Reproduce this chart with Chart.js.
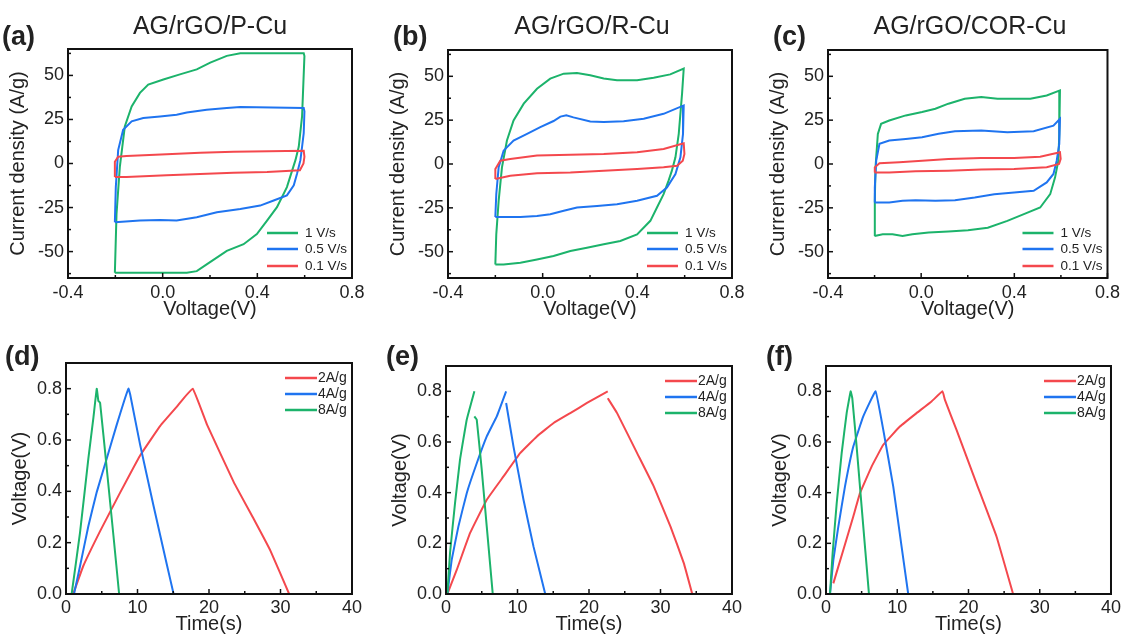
<!DOCTYPE html>
<html>
<head>
<meta charset="utf-8">
<script src="https://cdn.jsdelivr.net/npm/chart.js@4.4.1/dist/chart.umd.min.js"></script>
<style>
  html, body { margin: 0; padding: 0; background: #fff; }
  #fig { position: relative; width: 1124px; height: 636px; overflow: hidden;
         font-family: "Liberation Sans", Arial, sans-serif; color: #222; }
  #fig canvas { position: absolute; }
  .title { position: absolute; width: 300px; font-size: 25px; line-height: 1; text-align: center; white-space: nowrap; z-index: 2; }
  .tag { position: absolute; font-size: 27px; font-weight: bold; line-height: 1; z-index: 2; }
</style>
</head>
<body>
<div id="fig">
  <canvas id="cvA" width="370" height="330" style="left:0;top:0"></canvas>
  <canvas id="cvB" width="370" height="330" style="left:380px;top:0"></canvas>
  <canvas id="cvC" width="364" height="330" style="left:760px;top:0"></canvas>
  <canvas id="gcdD" width="370" height="306" style="left:0;top:330px"></canvas>
  <canvas id="gcdE" width="370" height="306" style="left:380px;top:330px"></canvas>
  <canvas id="gcdF" width="364" height="306" style="left:760px;top:330px"></canvas>

  <div class="title" style="left:60px;top:13px">AG/rGO/P-Cu</div>
  <div class="title" style="left:442px;top:13px">AG/rGO/R-Cu</div>
  <div class="title" style="left:820px;top:13px">AG/rGO/COR-Cu</div>
  <div class="tag" style="left:2px;top:23px">(a)</div>
  <div class="tag" style="left:393px;top:23px">(b)</div>
  <div class="tag" style="left:773px;top:23px">(c)</div>
  <div class="tag" style="left:5px;top:343px">(d)</div>
  <div class="tag" style="left:386px;top:343px">(e)</div>
  <div class="tag" style="left:766px;top:343px">(f)</div>
</div>

<script>
// ---------- tick labels / legend names

const cvVoltageTicks = [-0.4, 0.0, 0.4, 0.8];
const cvCurrentTicks = [-50, -25, 0, 25, 50];
const gcdTimeTicks = [0, 10, 20, 30, 40];
const gcdVoltageTicks = [0.0, 0.2, 0.4, 0.6, 0.8];

const scanRates = ["1 V/s", "0.5 V/s", "0.1 V/s"];
const currentDensities = ["2A/g", "4A/g", "8A/g"];

// ---------- CV loops, voltage (V) and current density (A/g)

// (a) AG/rGO/P-Cu
const aV1 = [-0.202, -0.195, -0.181, -0.160, -0.131, -0.096, -0.061, 0.003, 0.073, 0.144, 0.201, 0.271, 0.328, 0.596, 0.599, 0.589, 0.575, 0.561, 0.525, 0.483, 0.441, 0.398, 0.342, 0.271, 0.186, 0.144, 0.102, -0.202];
const aJ1 = [-62.0, -28.6, -1.9, 21.0, 32.4, 40.1, 44.8, 47.7, 50.6, 53.4, 57.3, 61.1, 62.6, 62.6, 61.0, 26.7, 9.5, 1.9, -13.4, -24.8, -32.4, -40.1, -45.8, -49.6, -57.3, -61.1, -62.0, -62.0];
const aV05 = [-0.202, -0.198, -0.188, -0.167, -0.131, -0.082, -0.011, 0.059, 0.102, 0.186, 0.271, 0.328, 0.596, 0.599, 0.596, 0.589, 0.582, 0.568, 0.554, 0.525, 0.469, 0.412, 0.328, 0.229, 0.144, 0.059, -0.011, -0.096, -0.202];
const aJ05 = [-33.4, -13.4, 7.6, 19.1, 23.9, 25.8, 26.7, 27.7, 29.0, 30.5, 31.5, 32.1, 31.5, 29.6, 17.2, 9.5, 1.9, -5.7, -12.4, -18.1, -21.0, -23.9, -25.8, -27.7, -30.5, -32.4, -32.1, -32.4, -33.4];
const aV01 = [-0.202, -0.202, -0.188, -0.153, 0.017, 0.158, 0.299, 0.596, 0.599, 0.595, 0.580, 0.441, 0.299, 0.017, -0.153, -0.202];
const aJ01 = [-7.6, 1.0, 3.8, 4.2, 5.3, 6.1, 6.7, 7.3, 3.8, 0.0, -3.8, -4.8, -5.3, -6.7, -7.6, -7.6];

// (b) AG/rGO/R-Cu
const bV1 = [-0.200, -0.196, -0.186, -0.172, -0.151, -0.123, -0.080, -0.024, 0.032, 0.089, 0.145, 0.201, 0.258, 0.314, 0.399, 0.469, 0.539, 0.596, 0.589, 0.575, 0.561, 0.546, 0.532, 0.511, 0.483, 0.455, 0.399, 0.328, 0.258, 0.187, 0.117, 0.046, -0.024, -0.094, -0.165, -0.200];
const bJ1 = [-57.3, -40.1, -21.0, -1.9, 13.4, 24.8, 34.4, 42.9, 48.7, 51.5, 51.9, 50.6, 48.7, 47.7, 47.7, 49.2, 51.1, 54.4, 40.1, 17.2, 3.8, -3.8, -9.5, -17.2, -24.8, -32.4, -40.1, -43.9, -45.8, -47.7, -49.6, -52.5, -54.4, -56.3, -57.3, -57.3];
const bV05 = [-0.200, -0.196, -0.186, -0.165, -0.123, -0.066, -0.010, 0.046, 0.075, 0.100, 0.130, 0.201, 0.258, 0.342, 0.427, 0.511, 0.596, 0.593, 0.582, 0.561, 0.525, 0.483, 0.399, 0.314, 0.230, 0.145, 0.089, 0.032, -0.024, -0.094, -0.200];
const bJ05 = [-30.2, -17.2, -1.9, 7.6, 13.4, 17.2, 21.0, 24.5, 27.0, 27.8, 26.6, 24.2, 23.9, 24.4, 25.8, 28.6, 33.4, 17.2, 3.8, -5.7, -13.4, -18.1, -21.0, -22.9, -23.9, -24.8, -26.7, -28.6, -29.6, -30.2, -30.2];
const bV01 = [-0.200, -0.200, -0.179, -0.137, -0.024, 0.117, 0.258, 0.399, 0.511, 0.596, 0.599, 0.592, 0.568, 0.511, 0.399, 0.258, 0.117, -0.024, -0.137, -0.200];
const bJ01 = [-8.6, -2.9, 1.9, 2.9, 4.8, 5.3, 5.7, 6.7, 8.6, 11.8, 5.7, 1.9, -1.0, -1.9, -2.9, -3.8, -4.8, -5.3, -6.7, -8.6];

// (c) AG/rGO/COR-Cu
const cV1 = [-0.200, -0.199, -0.196, -0.186, -0.172, -0.137, -0.066, 0.004, 0.061, 0.117, 0.187, 0.258, 0.328, 0.399, 0.469, 0.539, 0.596, 0.593, 0.589, 0.575, 0.554, 0.511, 0.441, 0.370, 0.286, 0.201, 0.117, 0.032, -0.038, -0.080, -0.123, -0.165, -0.200];
const cJ1 = [-41.0, -21.0, -1.9, 17.2, 22.9, 24.8, 27.7, 29.6, 31.5, 34.4, 37.2, 38.2, 37.2, 37.2, 37.2, 39.1, 42.0, 17.2, 1.9, -7.6, -17.2, -24.8, -28.6, -32.4, -36.3, -37.8, -38.5, -39.1, -40.1, -41.0, -40.1, -40.1, -41.0];
const cV05 = [-0.200, -0.199, -0.193, -0.179, -0.137, -0.066, 0.004, 0.075, 0.145, 0.258, 0.370, 0.483, 0.568, 0.596, 0.593, 0.582, 0.568, 0.539, 0.483, 0.399, 0.314, 0.230, 0.145, 0.061, -0.024, -0.080, -0.137, -0.200];
const cJ05 = [-21.9, -13.4, 1.9, 11.5, 13.4, 14.3, 15.3, 17.2, 18.7, 19.1, 18.1, 18.7, 21.9, 25.8, 11.5, 1.9, -5.7, -10.5, -15.3, -16.2, -17.2, -19.1, -20.6, -21.0, -20.6, -21.0, -21.9, -21.9];
const cV01 = [-0.200, -0.199, -0.179, -0.094, 0.004, 0.117, 0.258, 0.399, 0.511, 0.596, 0.599, 0.592, 0.539, 0.399, 0.258, 0.117, -0.024, -0.137, -0.200];
const cJ01 = [-4.8, -1.9, 0.4, 1.0, 1.9, 2.9, 3.4, 3.4, 4.2, 6.7, 2.9, 0.0, -1.9, -2.9, -3.2, -3.8, -4.2, -4.8, -4.8];

// ---------- GCD curves, time (s) and voltage (V); null = break in the trace

// (d)
const dT2 = [1.0, 2.43, 4.77, 7.57, 10.37, 13.18, 15.51, 17.71, 19.72, 23.46, 26.26, 28.60, 31.21];
const dU2 = [0.0, 0.110, 0.245, 0.395, 0.540, 0.655, 0.730, 0.800, 0.660, 0.436, 0.292, 0.168, 0.0];
const dT4 = [1.12, 1.96, 3.13, 4.30, 5.70, 7.10, 8.13, 8.74, 8.97, 10.37, 12.24, 14.11, 15.05];
const dU4 = [0.0, 0.108, 0.265, 0.397, 0.528, 0.660, 0.752, 0.800, 0.778, 0.581, 0.344, 0.114, 0.0];
const dT8 = [0.79, 1.96, 3.13, 3.83, 4.30, 4.53, 4.77, 5.70, 6.64, 7.43];
const dU8 = [0.0, 0.239, 0.528, 0.686, 0.800, 0.752, 0.745, 0.489, 0.226, 0.0];

// (e)
const eT2 = [0.19, 1.50, 3.36, 5.70, 8.04, 10.37, 12.71, 15.05, 17.38, 19.72, 22.62, 22.62, 22.62, 23.93, 26.73, 29.07, 31.40, 33.27, 34.44];
const eU2 = [0.0, 0.095, 0.240, 0.372, 0.464, 0.556, 0.622, 0.675, 0.714, 0.754, 0.800, null, 0.773, 0.714, 0.556, 0.424, 0.266, 0.121, 0.0];
const eT4 = [0.19, 0.79, 1.73, 2.90, 4.30, 5.70, 7.10, 8.41, 8.41, 8.41, 9.44, 10.84, 12.24, 13.88];
const eU4 = [0.0, 0.134, 0.266, 0.398, 0.516, 0.622, 0.701, 0.800, null, 0.754, 0.582, 0.372, 0.187, 0.0];
const eT8 = [0.19, 0.56, 1.26, 1.96, 2.90, 3.97, 3.97, 3.97, 4.30, 5.00, 5.70, 6.54];
const eU8 = [0.0, 0.161, 0.358, 0.530, 0.688, 0.800, null, 0.701, 0.688, 0.490, 0.266, 0.0];

// (f)
const fT2 = [1.03, 2.43, 3.83, 4.77, 6.40, 8.04, 10.37, 12.71, 14.81, 16.36, 16.68, 18.32, 21.12, 23.93, 26.26];
const fU2 = [0.042, 0.174, 0.306, 0.398, 0.503, 0.589, 0.661, 0.714, 0.760, 0.800, 0.767, 0.648, 0.437, 0.227, 0.0];
const fT4 = [0.56, 1.03, 1.73, 2.66, 3.83, 5.23, 6.96, 8.04, 9.44, 10.61, 11.54];
const fU4 = [0.0, 0.134, 0.266, 0.424, 0.582, 0.701, 0.800, 0.648, 0.424, 0.187, 0.0];
const fT8 = [0.56, 0.93, 1.50, 2.20, 2.90, 3.46, 3.69, 4.30, 5.00, 6.03];
const fU8 = [0.0, 0.161, 0.358, 0.556, 0.714, 0.800, 0.773, 0.582, 0.345, 0.0];


const GREEN = "#1cb36b";
const BLUE = "#1f74f0";
const RED = "#f4484d";
const INK = "#222";

Chart.defaults.font.family = '"Liberation Sans", Arial, sans-serif';
Chart.defaults.color = INK;


// frame box + small inward ticks on bottom and left axes
const framePlugin = {
    id: "frame",
    afterDatasetsDraw(chart, args, opts) {
        const { ctx, chartArea: a, scales } = chart;
        ctx.save();
        ctx.strokeStyle = "#111";
        ctx.lineWidth = 1.5;

        const drawTicks = (scale, step, majors, horizontal) => {
            let v = Math.ceil(scale.min / step - 1e-6) * step;
            for (; v <= scale.max + 1e-6; v += step) {
                const isMajor = majors.some(m => Math.abs(m - v) < step / 10);
                const len = isMajor ? 5 : 3;
                const p = scale.getPixelForValue(v);
                ctx.beginPath();
                if (horizontal) {
                    ctx.moveTo(p, a.bottom);
                    ctx.lineTo(p, a.bottom - len);
                } else {
                    ctx.moveTo(a.left, p);
                    ctx.lineTo(a.left + len, p);
                }
                ctx.stroke();
            }
        };
        drawTicks(scales.x, opts.xMinor, opts.xMajor, true);
        drawTicks(scales.y, opts.yMinor, opts.yMajor, false);

        ctx.lineWidth = 2;
        ctx.strokeRect(a.left, a.top, a.right - a.left, a.bottom - a.top);
        ctx.restore();
    }
};

// legend drawn inside the plot box
const boxLegend = {
    id: "boxLegend",
    afterDraw(chart, args, opts) {
        const { ctx, chartArea: a } = chart;
        ctx.save();
        ctx.font = opts.fontSize + 'px "Liberation Sans", Arial, sans-serif';
        ctx.textBaseline = "middle";
        ctx.fillStyle = INK;
        ctx.lineWidth = 2.5;
        opts.items.forEach((it, i) => {
            const y = opts.fromTop ? a.top + opts.rows[i] : a.bottom - opts.rows[i];
            ctx.strokeStyle = it.color;
            ctx.beginPath();
            ctx.moveTo(a.right - opts.lineStart, y);
            ctx.lineTo(a.right - opts.lineEnd, y);
            ctx.stroke();
            ctx.fillText(it.text, a.right - opts.textAt, y + 0.5);
        });
        ctx.restore();
    }
};


function makePanel(id, series, cfg) {
    const canvas = document.getElementById(id);
    return new Chart(canvas, {
        type: "scatter",
        data: {
            datasets: series.map(s => ({
                label: s.label,
                data: s.x.map((x, i) => ({ x: x, y: s.y[i] })),
                showLine: true,
                borderColor: s.color,
                backgroundColor: s.color,
                borderWidth: 2,
                pointRadius: 0,
                tension: cfg.tension,
                order: s.order
            }))
        },
        options: {
            responsive: false,
            animation: false,
            events: [],
            layout: {
                padding: { top: cfg.top, right: canvas.width - 352, left: 0, bottom: 0 }
            },
            plugins: {
                legend: { display: false },
                tooltip: { enabled: false },
                frame: cfg.ticks,
                boxLegend: cfg.legend
            },
            scales: {
                x: {
                    type: "linear",
                    min: cfg.xMin,
                    max: cfg.xMax,
                    afterBuildTicks: sc => { sc.ticks = cfg.xTicks.map(v => ({ value: v })); },
                    afterFit: sc => { sc.height = canvas.height - cfg.bottom; },
                    grid: { display: false, drawTicks: false },
                    border: { display: false },
                    ticks: {
                        autoSkip: false, maxRotation: 0, padding: cfg.xPad,
                        font: { size: 18 }, color: INK,
                        callback: cfg.xFmt
                    },
                    title: {
                        display: true, text: cfg.xTitle, color: INK,
                        font: { size: 20 }, padding: { top: 0, bottom: cfg.xTitlePad }
                    }
                },
                y: {
                    type: "linear",
                    min: cfg.yMin,
                    max: cfg.yMax,
                    afterBuildTicks: sc => { sc.ticks = cfg.yTicks.map(v => ({ value: v })); },
                    afterFit: sc => { sc.width = cfg.left; },
                    grid: { display: false, drawTicks: false },
                    border: { display: false },
                    ticks: {
                        autoSkip: false, padding: 4,
                        font: { size: 18 }, color: INK,
                        callback: cfg.yFmt
                    },
                    title: {
                        display: true, text: cfg.yTitle, color: INK,
                        font: { size: 20 }, padding: { top: cfg.yTitlePad, bottom: 0 }
                    }
                }
            }
        },
        plugins: [framePlugin, boxLegend]
    });
}


// ---------- CV panels (a)-(c)

const cvBase = {
    left: 68, bottom: 278, tension: 0,
    xMin: -0.4, xMax: 0.8, yMin: -65, yMax: 65,
    xTicks: cvVoltageTicks, yTicks: cvCurrentTicks,
    xFmt: v => v.toFixed(1), yFmt: v => String(v),
    xTitle: "Voltage(V)", yTitle: "Current density (A/g)",
    xPad: 4, xTitlePad: 9, yTitlePad: 6,
    ticks: { xMinor: 0.2, xMajor: cvVoltageTicks, yMinor: 12.5, yMajor: cvCurrentTicks },
    legend: {
        fontSize: 13.5, fromTop: false, rows: [45, 29, 12],
        lineStart: 85, lineEnd: 54, textAt: 47,
        items: [
            { text: scanRates[0], color: GREEN },
            { text: scanRates[1], color: BLUE },
            { text: scanRates[2], color: RED }
        ]
    }
};

function cvSeries(v1, j1, v05, j05, v01, j01) {
    return [
        { label: scanRates[0], x: v1, y: j1, color: GREEN, order: 3 },
        { label: scanRates[1], x: v05, y: j05, color: BLUE, order: 2 },
        { label: scanRates[2], x: v01, y: j01, color: RED, order: 1 }
    ];
}

makePanel("cvA", cvSeries(aV1, aJ1, aV05, aJ05, aV01, aJ01), Object.assign({}, cvBase, { top: 49 }));
makePanel("cvB", cvSeries(bV1, bJ1, bV05, bJ05, bV01, bJ01), Object.assign({}, cvBase, { top: 50 }));
makePanel("cvC", cvSeries(cV1, cJ1, cV05, cJ05, cV01, cJ01), Object.assign({}, cvBase, { top: 50 }));


// ---------- GCD panels (d)-(f)

const gcdBase = {
    left: 66, bottom: 264, tension: 0.08,
    xMin: 0, xMax: 40, yMin: 0, yMax: 0.9,
    xTicks: gcdTimeTicks, yTicks: gcdVoltageTicks,
    xFmt: v => String(v), yFmt: v => v.toFixed(1),
    xTitle: "Time(s)", yTitle: "Voltage(V)",
    xPad: 3, xTitlePad: 0, yTitlePad: 8,
    ticks: { xMinor: 5, xMajor: gcdTimeTicks, yMinor: 0.1, yMajor: gcdVoltageTicks },
    legend: {
        fontSize: 14, fromTop: true, rows: [15, 31, 47],
        lineStart: 67, lineEnd: 35, textAt: 34,
        items: [
            { text: currentDensities[0], color: RED },
            { text: currentDensities[1], color: BLUE },
            { text: currentDensities[2], color: GREEN }
        ]
    }
};

function gcdSeries(t2, u2, t4, u4, t8, u8) {
    return [
        { label: currentDensities[0], x: t2, y: u2, color: RED, order: 3 },
        { label: currentDensities[1], x: t4, y: u4, color: BLUE, order: 2 },
        { label: currentDensities[2], x: t8, y: u8, color: GREEN, order: 1 }
    ];
}

makePanel("gcdD", gcdSeries(dT2, dU2, dT4, dU4, dT8, dU8), Object.assign({}, gcdBase, { top: 33 }));
makePanel("gcdE", gcdSeries(eT2, eU2, eT4, eU4, eT8, eU8), Object.assign({}, gcdBase, { top: 36 }));
makePanel("gcdF", gcdSeries(fT2, fU2, fT4, fU4, fT8, fU8), Object.assign({}, gcdBase, { top: 36 }));
</script>
</body>
</html>
